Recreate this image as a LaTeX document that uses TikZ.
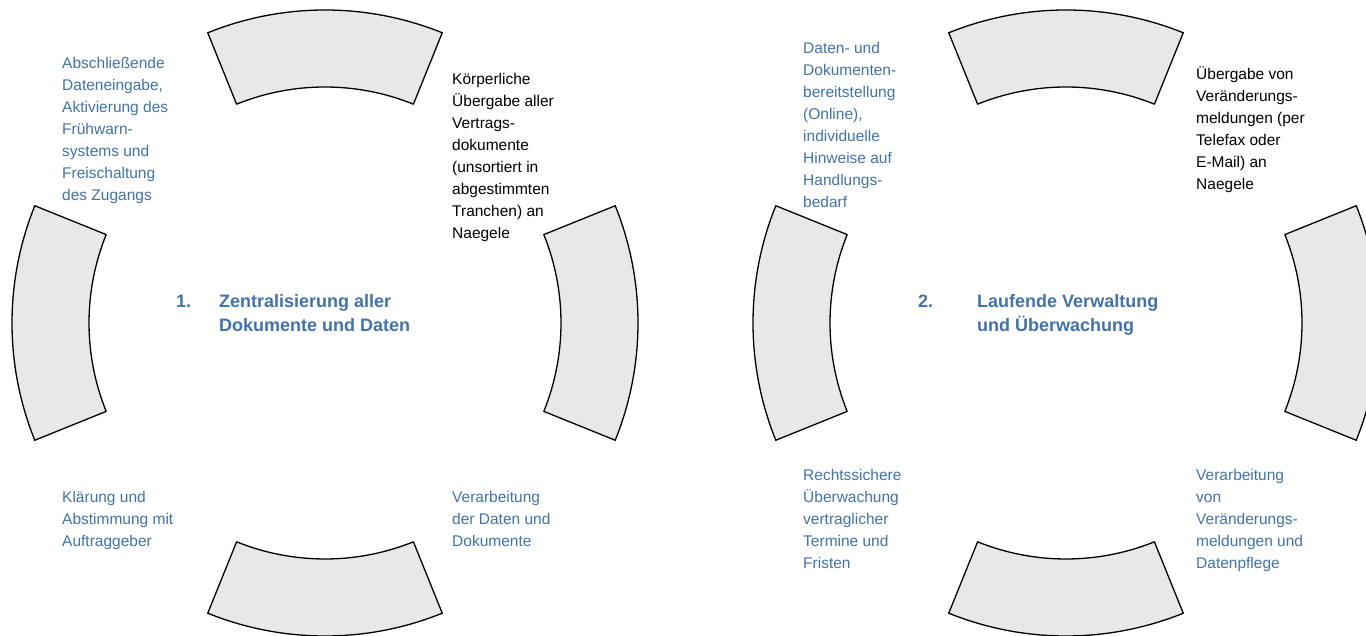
\documentclass[tikz,border=0pt]{standalone}
\usepackage{fontspec}
\setmainfont{Liberation Sans}
\definecolor{txtblue}{HTML}{4272AA}
\definecolor{segfill}{HTML}{E8E8E8}
\begin{document}
\begin{tikzpicture}[x=1pt,y=1pt,line join=round,
    seg/.style={draw=black,fill=segfill,line width=1.3pt},
    txt/.style={anchor=north west,inner sep=0pt,align=left,font=\fontsize{15.5}{22}\selectfont},
    head/.style={anchor=north west,inner sep=0pt,align=left,text=txtblue,font=\fontsize{18}{24}\selectfont\bfseries}]
    \useasboundingbox (0,0) rectangle (1366,636);
    \pgfmathsetmacro\ri{236}
    \pgfmathsetmacro\ro{313}
    % the two rings of four segments
    \foreach \cx in {325,1066}{
        \begin{scope}[shift={(\cx,313)}]
            \foreach \a in {0,90,180,270}
            \draw[seg] (\a-22:\ri) arc[start angle=\a-22,delta angle=44,radius=\ri]
                -- (\a+22:\ro) arc[start angle=\a+22,delta angle=-44,radius=\ro] -- cycle;
        \end{scope}
    }
    % ring 1
    \node[head] (n1) at (176,341.5) {1.};
    \node[head] (h1) at (219,341.5) {Zentralisierung aller\\Dokumente und Daten};
    \node[txt,text=txtblue] (a1) at (62,579) {Abschließende\\Dateneingabe,\\Aktivierung des\\Frühwarn-\\systems und\\Freischaltung\\des Zugangs};
    \node[txt] (b1) at (452,563) {Körperliche\\Übergabe aller\\Vertrags-\\dokumente\\(unsortiert in\\abgestimmten\\Tranchen) an\\Naegele};
    \node[txt,text=txtblue] (c1) at (62,145) {Klärung und\\Abstimmung mit\\Auftraggeber};
    \node[txt,text=txtblue] (d1) at (452,145) {Verarbeitung\\der Daten und\\Dokumente};
    % ring 2
    \node[head] (n2) at (918,341.5) {2.};
    \node[head] (h2) at (977,341.5) {Laufende Verwaltung\\und Überwachung};
    \node[txt,text=txtblue] (a2) at (803,594) {Daten- und\\Dokumenten-\\bereitstellung\\(Online),\\individuelle\\Hinweise auf\\Handlungs-\\bedarf};
    \node[txt] (b2) at (1196,569.5) {Übergabe von\\Veränderungs-\\meldungen (per\\Telefax oder\\E-Mail) an\\Naegele};
    \node[txt,text=txtblue] (c2) at (803,167) {Rechtssichere\\Überwachung\\vertraglicher\\Termine und\\Fristen};
    \node[txt,text=txtblue] (d2) at (1196,167) {Verarbeitung\\von\\Veränderungs-\\meldungen und\\Datenpflege};
\end{tikzpicture}
\end{document}
